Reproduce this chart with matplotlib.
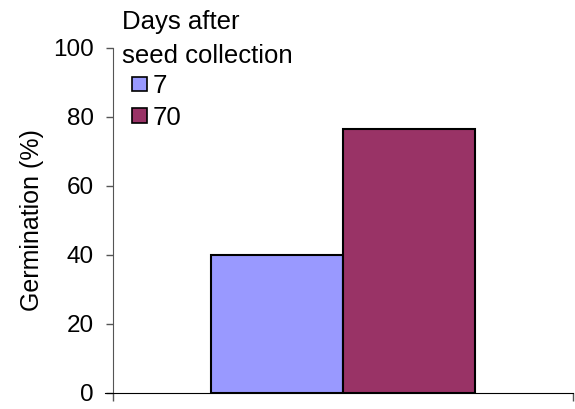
import matplotlib
matplotlib.use("Agg")
import matplotlib.pyplot as plt
import numpy as np

plt.rcParams['font.family'] = ['Liberation Sans', 'DejaVu Sans']

# Germination data by storage time after seed collection
series_labels = ["7", "70"]
germination = [40.0, 76.5]
colors = ["#9999FF", "#993366"]
y_ticks = [0, 20, 40, 60, 80, 100]
legend_title = "Days after\nseed collection"

fig = plt.figure(figsize=(5.75, 4.09), dpi=100)
ax = fig.add_axes([113/575, 1 - 392.7/409, 460/575, (392.7 - 48)/409])

width = 0.287
offsets = (np.arange(len(germination)) - (len(germination) - 1) / 2) * width
for off, val, col, lab in zip(offsets, germination, colors, series_labels):
    ax.bar(off, val, width=width, color=col, edgecolor="black", linewidth=1.5, label=lab)

ax.set_xlim(-0.5, 0.5)
ax.set_ylim(0, 100)
ax.set_yticks(y_ticks)
ax.set_xticks([-0.5, 0.5])
ax.set_xticklabels([])
ax.tick_params(axis="x", direction="out", length=5.5, color="#555555", width=1)
ax.tick_params(axis="y", direction="out", length=5, color="#555555", width=1,
               labelsize=17.5, pad=9)
for s in ["top", "right"]:
    ax.spines[s].set_visible(False)
ax.spines["left"].set_color("#555555")
ax.spines["bottom"].set_color("black")
ax.spines["bottom"].set_bounds(-0.5 - 8/460, 0.5)
ax.set_ylabel("Germination (%)", fontsize=18, labelpad=6)

# Legend heading sits slightly left of the swatches
fig.text(122/575, 1 - 10/409, legend_title, fontsize=18.5, ha="left", va="top",
         linespacing=1.55)

leg = ax.legend(loc="upper left",
                bbox_to_anchor=(132/575, 1 - 74/409), bbox_transform=fig.transFigure,
                frameon=False, fontsize=18.5,
                handlelength=0.58, handleheight=0.5, handletextpad=0.23,
                labelspacing=0.3, borderpad=0, borderaxespad=0)
for h in leg.legend_handles:
    h.set_linewidth(1.2)

fig.savefig("out.png", dpi=100)
